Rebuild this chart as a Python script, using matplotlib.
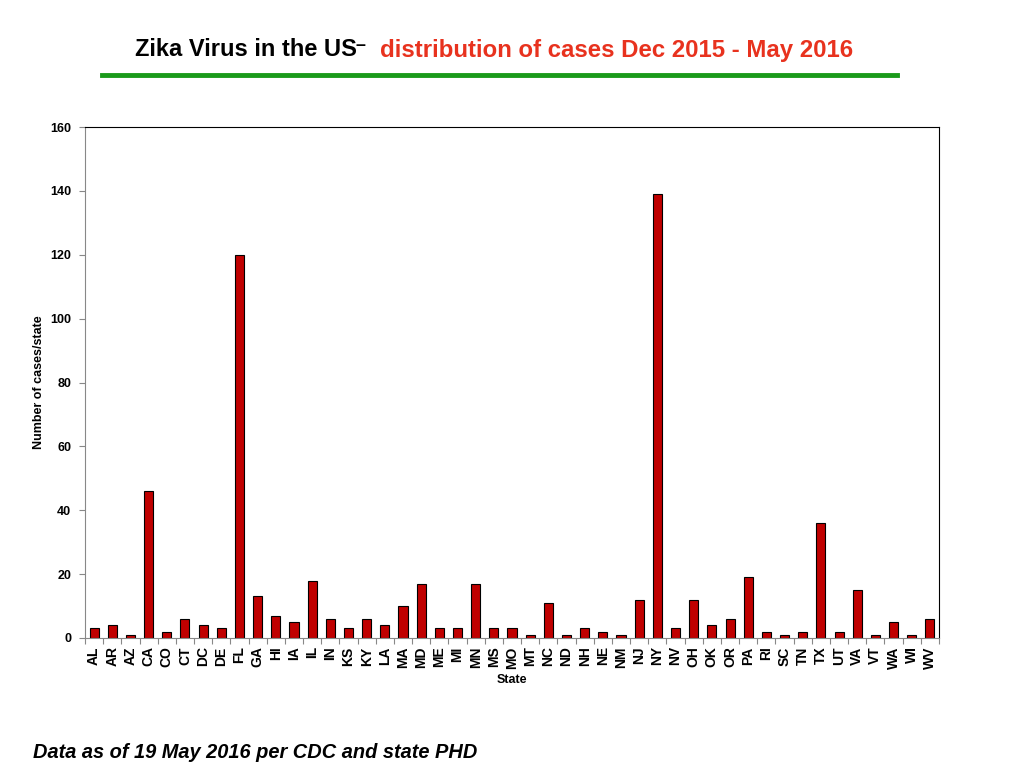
import matplotlib
matplotlib.use('Agg')
import matplotlib.pyplot as plt
import numpy as np

states = ['AL', 'AR', 'AZ', 'CA', 'CO', 'CT', 'DC', 'DE', 'FL', 'GA', 'HI', 'IA',
          'IL', 'IN', 'KS', 'KY', 'LA', 'MA', 'MD', 'ME', 'MI', 'MN', 'MS', 'MO',
          'MT', 'NC', 'ND', 'NH', 'NE', 'NM', 'NJ', 'NY', 'NV', 'OH', 'OK', 'OR',
          'PA', 'RI', 'SC', 'TN', 'TX', 'UT', 'VA', 'VT', 'WA', 'WI', 'WV']
cases = [3, 4, 1, 46, 2, 6, 4, 3, 120, 13, 7, 5,
         18, 6, 3, 6, 4, 10, 17, 3, 3, 17, 3, 3,
         1, 11, 1, 3, 2, 1, 12, 139, 3, 12, 4, 6,
         19, 2, 1, 2, 36, 2, 15, 1, 5, 1, 6]
yticks = [0, 20, 40, 60, 80, 100, 120, 140, 160]

plt.rcParams['font.family'] = ['Liberation Sans', 'DejaVu Sans']

fig = plt.figure(figsize=(10.24, 7.68), dpi=100)
ax = fig.add_axes([85/1024, 130/768, 854/1024, 511/768])

x = np.arange(len(states))
ax.bar(x, cases, width=0.5, color='#c00000', edgecolor='black', linewidth=0.8)
ax.set_xlim(-0.5, len(states) - 0.5)
ax.set_ylim(0, 160)
ax.set_yticks(yticks)
ax.set_xticks(x)
ax.set_xticks(np.arange(len(states) + 1) - 0.5, minor=True)
ax.set_xticklabels(states, rotation=90, fontsize=10, fontweight='bold')
for lab in ax.get_yticklabels():
    lab.set_fontsize(9)
    lab.set_fontweight('bold')
ax.tick_params(axis='x', which='major', length=0, pad=6)
ax.tick_params(axis='x', which='minor', direction='out', length=4, color='#888888', width=0.8)
ax.tick_params(axis='y', direction='out', length=4, color='#888888', width=0.8, pad=6)
ax.set_xlabel('State', fontsize=9, fontweight='bold')
ax.set_ylabel('Number of cases/state', fontsize=9, fontweight='bold')
ax.xaxis.set_label_coords(0.5, -0.070)
ax.yaxis.set_label_coords(-0.047, 0.5)
for s in ax.spines.values():
    s.set_linewidth(0.8)
ax.spines['left'].set_color('#888888')
ax.spines['bottom'].set_color('#888888')

# title, two colours
fig.text(135/1024, 1 - 50/768, 'Zika Virus in the US', fontsize=17, fontweight='bold',
         color='black', va='center', ha='left')
fig.text(355/1024, 1 - 46/768, '\u2013', fontsize=13, fontweight='bold',
         color='black', va='center', ha='left')
fig.text(380/1024, 1 - 50/768, 'distribution of cases Dec 2015 - May 2016', fontsize=17.3,
         fontweight='bold', color='#e8321e', va='center', ha='left')
fig.add_artist(plt.Line2D([102/1024, 897/1024], [1 - 75/768, 1 - 75/768],
                          color='#1a9a1a', linewidth=3.5, transform=fig.transFigure))

fig.text(33/1024, 1 - 752/768, 'Data as of 19 May 2016 per CDC and state PHD', fontsize=14.4,
         fontweight='bold', fontstyle='italic', va='center', ha='left')

fig.savefig('out.png', dpi=100)
